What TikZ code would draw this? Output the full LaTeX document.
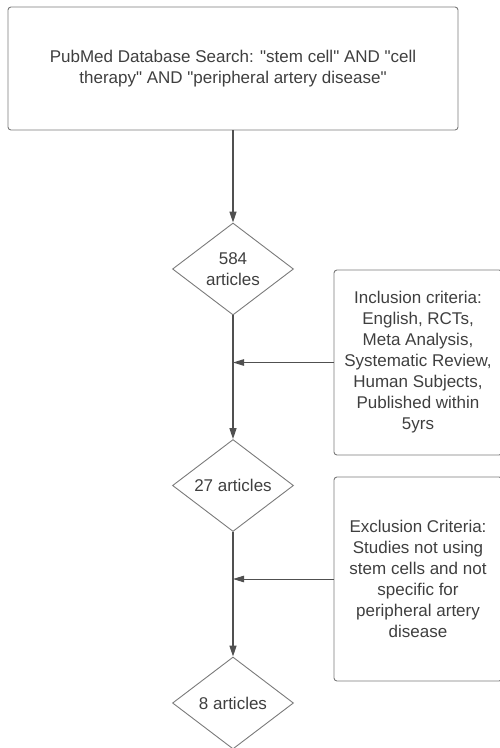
\documentclass[tikz,border=0pt]{standalone}
\usepackage{fontspec}
\newfontfamily\labelfont{Liberation Sans}
\usetikzlibrary{shapes.geometric,arrows.meta}
\definecolor{inkgray}{HTML}{3F3F3F}
\definecolor{linegray}{HTML}{505050}
\definecolor{framegray}{HTML}{7A7A7A}
\begin{document}
\begin{tikzpicture}[x=1pt,y=-1pt,
  every node/.style={font=\labelfont\fontsize{17}{21}\selectfont, text=inkgray},
  panel/.style={draw=framegray, line width=0.9pt, rounded corners=3pt, align=center, inner sep=0pt},
  countbox/.style={diamond, draw=framegray, line width=0.9pt, minimum width=121pt,
    minimum height=92pt, inner sep=0pt, aspect=1.33, align=center},
  flow/.style={draw=linegray, line width=1.2pt, -{Triangle[length=11pt,width=7pt]}},
  feed/.style={draw=linegray, line width=1pt, -{Triangle[length=11pt,width=6.5pt]}}
]
\useasboundingbox (0,0) rectangle (500,748);

% search box and article counts down the left column
\node[panel, minimum width=450pt, minimum height=123pt] (search) at (233,68.5)
  {\baselineskip=22pt PubMed Database Search: "stem cell" AND "cell\\therapy" AND "peripheral artery disease"};
\node[countbox] (d1) at (233,269) {584\\articles};
\node[countbox] (d2) at (233,485.5) {27 articles};
\node[countbox] (d3) at (233,703) {8 articles};

% criteria boxes on the right
\node[panel, minimum width=168pt, minimum height=185pt] (incl) at (418,362.5)
  {Inclusion criteria:\\English, RCTs,\\Meta Analysis,\\Systematic Review,\\Human Subjects,\\Published within\\5yrs};
\node[panel, minimum width=168pt, minimum height=204pt] (excl) at (418,579)
  {Exclusion Criteria:\\Studies not using\\stem cells and not\\specific for\\peripheral artery\\disease};

% main flow
\draw[flow] (search.south) -- (d1.north);
\draw[flow] (d1.south) -- (d2.north);
\draw[flow] (d2.south) -- (d3.north);

% criteria feeding into the flow
\coordinate (m1) at (d1.south |- incl.west);
\coordinate (m2) at (d2.south |- excl.west);
\draw[feed] (incl.west) -- (m1);
\draw[feed] (excl.west) -- (m2);
\end{tikzpicture}
\end{document}
